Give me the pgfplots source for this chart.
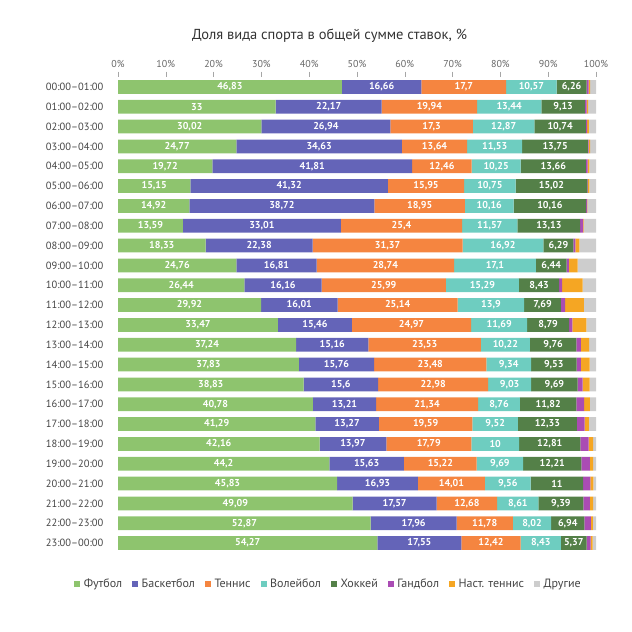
\documentclass[border=0pt]{standalone}
\usepackage{pgfplots}
\usepackage{pgfplotstable}
\pgfplotsset{compat=1.18}
\usepackage{fontspec}
\setmainfont{PT Sans}
\definecolor{cF}{RGB}{142,196,110}
\definecolor{cB}{RGB}{100,100,184}
\definecolor{cT}{RGB}{245,133,64}
\definecolor{cV}{RGB}{110,205,192}
\definecolor{cH}{RGB}{84,128,72}
\definecolor{cG}{RGB}{170,76,180}
\definecolor{cN}{RGB}{245,166,35}
\definecolor{cO}{RGB}{205,205,205}
\definecolor{txt}{RGB}{68,68,68}

\pgfplotstableread{
row f b t v h hl g nt o
0 46.83 16.66 17.7 10.57 6.26 6,26 0.45 0.3 1.23
1 33 22.17 19.94 13.44 9.13 9,13 0.35 0.3 1.67
2 30.02 26.94 17.3 12.87 10.74 10,74 0.25 0.4 1.48
3 24.77 34.63 13.64 11.53 13.75 13,75 0.15 0.3 1.23
4 19.72 41.81 12.46 10.25 13.66 13,66 0.35 0.35 1.4
5 15.15 41.32 15.95 10.75 15.02 15,02 0.1 0.3 1.41
6 14.92 38.72 18.95 10.16 15.2 10,16 0.2 0.05 1.8
7 13.59 33.01 25.4 11.57 13.13 13,13 0.6 0.1 2.6
8 18.33 22.38 31.37 16.92 6.29 6,29 0.4 0.85 3.46
9 24.76 16.81 28.74 17.1 6.44 6,44 0.5 1.8 3.85
10 26.44 16.16 25.99 15.29 8.43 8,43 0.6 4.3 2.79
11 29.92 16.01 25.14 13.9 7.69 7,69 0.9 3.9 2.54
12 33.47 15.46 24.97 11.69 8.79 8,79 0.7 2.9 2.02
13 37.24 15.16 23.53 10.22 9.76 9,76 0.9 1.75 1.44
14 37.83 15.76 23.48 9.34 9.53 9,53 0.9 1.8 1.36
15 38.83 15.6 22.98 9.03 9.69 9,69 1.05 1.5 1.32
16 40.78 13.21 21.34 8.76 11.82 11,82 1.6 1.2 1.29
17 41.29 13.27 19.59 9.52 12.33 12,33 1.6 0.9 1.5
18 42.16 13.97 17.79 10 12.81 12,81 1.7 0.95 0.62
19 44.2 15.63 15.22 9.69 12.21 12,21 1.75 0.7 0.6
20 45.83 16.93 14.01 9.56 11 11 1.5 0.6 0.57
21 49.09 17.57 12.68 8.61 9.39 9,39 1.4 0.65 0.61
22 52.87 17.96 11.78 8.02 6.94 6,94 1.35 0.45 0.63
23 54.27 17.55 12.42 8.43 5.37 5,37 0.85 0.4 0.71
}\data

\tikzset{
  lblstyle/.style={font=\bfseries\fontsize{10}{12}\selectfont, text=white, anchor=center, inner sep=0pt},
}
\pgfplotsset{
  lbl/.style={
    point meta=explicit,
    nodes near coords={\pgfmathprintnumber[use comma,assume math mode=true]{\pgfplotspointmeta}},
    every node near coord/.append style={lblstyle},
  },
}

\begin{document}
\begin{tikzpicture}[x=1pt,y=1pt]
\path[use as bounding box] (0,0) rectangle (632,632);
\node[font=\fontsize{14.5}{16}\selectfont, text=black!80] at (329.5,596) {Доля вида спорта в общей сумме ставок, \%};
\begin{axis}[
  at={(118pt,79pt)}, anchor=south west,
  scale only axis, width=478pt, height=476pt,
  xbar stacked, bar width=0.69,
  xmin=0, xmax=100, ymin=-0.5, ymax=23.5, y dir=reverse,
  axis line style={draw=none},
  xtick={0,10,...,100},
  xticklabel={\pgfmathprintnumber[assume math mode=true]{\tick}\%},
  xtick pos=upper, xticklabel pos=upper,
  tick align=outside, major tick length=5.5pt,
  xtick style={draw=black!35, line width=0.6pt},
  xticklabel style={font=\fontsize{10}{12}\selectfont, text=black!60, yshift=0pt},
  ytick={0,...,23},
  ytick style={draw=none},
  yticklabels={00:00–01:00,01:00–02:00,02:00–03:00,03:00–04:00,04:00–05:00,05:00–06:00,06:00–07:00,07:00–08:00,08:00–09:00,09:00–10:00,10:00–11:00,11:00–12:00,12:00–13:00,13:00–14:00,14:00–15:00,15:00–16:00,16:00–17:00,17:00–18:00,18:00–19:00,19:00–20:00,20:00–21:00,21:00–22:00,22:00–23:00,23:00–00:00},
  yticklabel style={font=\fontsize{10.5}{12}\selectfont, text=txt, inner sep=0pt, xshift=-9pt},
  legend columns=8,
  legend style={draw=none, at={(0.4404,-0.0651)}, anchor=center, font=\fontsize{12}{14}\selectfont, text=txt,
    /tikz/every odd column/.append style={column sep=1.5pt},
    /tikz/every even column/.append style={column sep=8pt}},
  legend cell align=left,
  legend image code/.code={\fill[#1] (0pt,-3pt) rectangle (6pt,3pt);},
]
\addplot[fill=cF, draw=none, lbl=f] table[x=f, y=row, meta=f] {\data};
\addplot[fill=cB, draw=none, lbl=b] table[x=b, y=row, meta=b] {\data};
\addplot[fill=cT, draw=none, lbl=t] table[x=t, y=row, meta=t] {\data};
\addplot[fill=cV, draw=none, lbl=v] table[x=v, y=row, meta=v] {\data};
\addplot[fill=cH, draw=none, point meta=explicit symbolic,
  nodes near coords={\pgfplotspointmeta},
  every node near coord/.append style={lblstyle}] table[x=h, y=row, meta=hl] {\data};
\addplot[fill=cG, draw=none] table[x=g, y=row] {\data};
\addplot[fill=cN, draw=none] table[x=nt, y=row] {\data};
\addplot[fill=cO, draw=none] table[x=o, y=row] {\data};
\legend{Футбол,Баскетбол,Теннис,Волейбол,Хоккей,Гандбол,Наст. теннис,Другие}
\end{axis}
\end{tikzpicture}
\end{document}
